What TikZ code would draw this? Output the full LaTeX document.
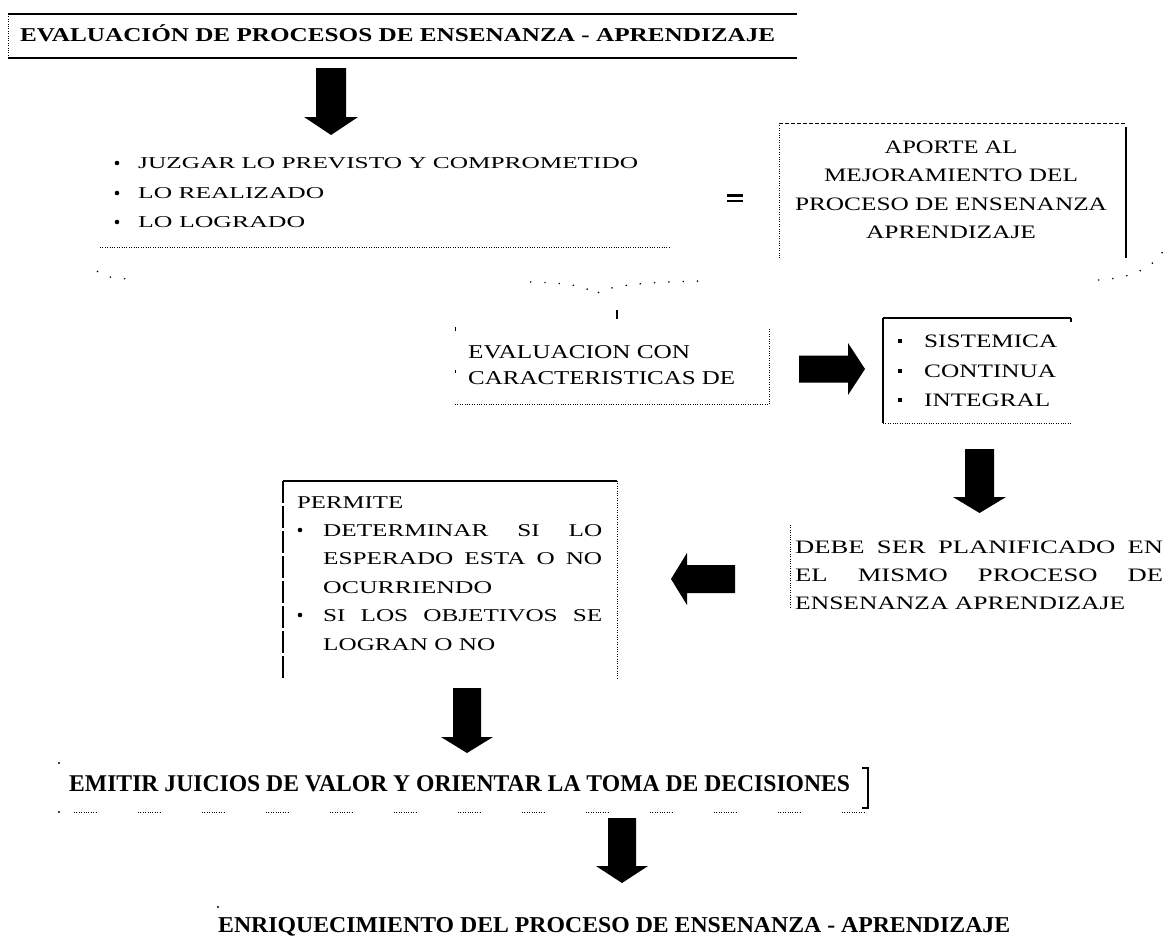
\documentclass[tikz,border=0pt]{standalone}
\usepackage{fontspec}
\setmainfont{Liberation Serif}
\usepackage{graphicx}
\newcommand\fw[2]{\resizebox{#1pt}{\height}{#2}}
\newcommand\jl[2]{\resizebox{#1pt}{\height}{\hbox to \dimexpr#1pt*10/14\relax{#2}}}
\tikzset{
  txt/.style={anchor=base west, inner sep=0pt},
  ctxt/.style={anchor=base, inner sep=0pt},
  fA/.style={font=\fontsize{16.6}{18}\selectfont},
  fB/.style={font=\fontsize{19}{20}\selectfont},
  fC/.style={font=\fontsize{19.6}{20}\selectfont},
  fD/.style={font=\fontsize{18}{20}\selectfont},
  fT/.style={font=\bfseries\fontsize{19.6}{20}\selectfont},
  fE/.style={font=\bfseries\fontsize{24}{26}\selectfont},
  fF/.style={font=\bfseries\fontsize{22.7}{24}\selectfont},
  solidb/.style={line width=1.2pt},
  heavyb/.style={line width=2pt},
  dotb/.style={line width=1pt, dash pattern=on 1pt off 1.4pt},
  dashb/.style={line width=1pt, dash pattern=on 4pt off 2pt},
  longdash/.style={line width=1.2pt, dash pattern=on 22pt off 3pt},
  sparse/.style={line width=1.3pt, dash pattern=on 1.3pt off 13pt},
  blk/.style={fill=black},
}
\begin{document}
\begin{tikzpicture}[x=1pt,y=-1pt]
\useasboundingbox[fill=white] (0,0) rectangle (1169,942);

% ---------- title box
\draw[heavyb] (8,14) -- (797,14);
\draw[heavyb] (8,58) -- (797,58);
\draw[dotb] (8,14) -- (8,58);
\node[txt,fT] (title) at (20,41.5) {\fw{755}{EVALUACIÓN DE PROCESOS DE ENSENANZA - APRENDIZAJE}};

% ---------- arrow 1
\fill[blk] (316,68) -- (346,68) -- (346,117) -- (358,117) -- (331,135) -- (304,117) -- (316,117) -- cycle;

% ---------- list
\fill (117,163) circle (2.3);
\fill (117,193) circle (2.3);
\fill (117,222) circle (2.3);
\node[txt,fA] (l1) at (138,168.5) {\fw{500}{JUZGAR LO PREVISTO Y COMPROMETIDO}};
\node[txt,fA] (l2) at (138,198.5) {\fw{186}{LO REALIZADO}};
\node[txt,fA] (l3) at (138,227.5) {\fw{167}{LO LOGRADO}};
\draw[dotb] (100,247) -- (671,247);

% ---------- equals
\fill (727,194) rectangle (743,196.6);
\fill (727,199.6) rectangle (743,202.2);

% ---------- aporte box
\draw[dashb] (779,123) -- (1126,123);
\draw[dotb] (779,123) -- (779,258);
\draw[line width=1.6pt] (1126,127) -- (1126,258);
\node[ctxt,fB] (ap1) at (951,153.3) {\fw{133}{APORTE AL}};
\node[ctxt,fB] (ap2) at (951,181.3) {\fw{254}{MEJORAMIENTO DEL}};
\node[ctxt,fB] (ap3) at (951,210.3) {\fw{312}{PROCESO DE ENSENANZA}};
\node[ctxt,fB] (ap4) at (951,238.3) {\fw{170}{APRENDIZAJE}};

% ---------- brace remnants
\draw[sparse] (97,271) .. controls (102,277) and (118,279) .. (132,279);
\draw[sparse] (530,282) .. controls (570,283) and (588,286) .. (595,295) .. controls (604,286) and (640,282) .. (705,281);
\draw[sparse] (1098,280) .. controls (1140,278) and (1160,262) .. (1167,243);
\draw[line width=1.3pt] (617,310) -- (617,319);

% ---------- middle box
\draw[line width=1pt] (455,327) -- (455,331);
\draw[line width=1pt] (455,370) -- (455,373);
\draw[dotb] (455,404) -- (769,404);
\draw[dotb] (769,329) -- (769,404);
\node[txt,fC] (m1) at (468,358.5) {\fw{222}{EVALUACION CON}};
\node[txt,fC] (m2) at (468,384.5) {\fw{267}{CARACTERISTICAS DE}};

% ---------- right arrow
\fill[blk] (799,355.5) -- (848,355.5) -- (848,343) -- (865,369) -- (848,395) -- (848,382.5) -- (799,382.5) -- cycle;

% ---------- sistemica box
\draw[heavyb] (883,318) -- (1071,318);
\draw[solidb] (1071,318) -- (1071,322);
\draw[solidb] (883,318) -- (883,423);
\draw[dotb] (883,423) -- (1071,423);
\fill (898,339) rectangle (902,343);
\fill (898,369) rectangle (902,373);
\fill (898,398) rectangle (902,402);
\node[txt,fB] (s1) at (924,347.3) {\fw{133}{SISTEMICA}};
\node[txt,fB] (s2) at (924,377.3) {\fw{132}{CONTINUA}};
\node[txt,fB] (s3) at (924,406.3) {\fw{126}{INTEGRAL}};

% ---------- arrow 2
\fill[blk] (965,449) -- (994,449) -- (994,497) -- (1006,497) -- (979.5,513) -- (953,497) -- (965,497) -- cycle;

% ---------- debe
\draw[dotb] (790,525) -- (790,607);
\node[txt,fB] (d1) at (795,553.3) {\jl{368}{DEBE\hfill SER\hfill PLANIFICADO\hfill EN}};
\node[txt,fB] (d2) at (795,581.3) {\jl{368}{EL\hfill MISMO\hfill PROCESO\hfill DE}};
\node[txt,fB] (d3) at (795,609.3) {\fw{330}{ENSENANZA APRENDIZAJE}};

% ---------- left arrow
\fill[blk] (735,565) -- (735,593) -- (687,593) -- (687,605) -- (671,579) -- (687,553) -- (687,565) -- cycle;

% ---------- permite box
\draw[solidb] (283,481) -- (617,481);
\draw[longdash] (283,481) -- (283,680);
\draw[dotb] (617,481) -- (617,680);
\node[txt,fD] (p0) at (297,508) {\fw{106}{PERMITE}};
\fill (300,530) circle (2.3);
\fill (300,615) circle (2.3);
\node[txt,fD] (p1) at (323,536) {\jl{279}{DETERMINAR\hfill SI\hfill LO}};
\node[txt,fD] (p2) at (323,564) {\jl{279}{ESPERADO\hfill ESTA\hfill O\hfill NO}};
\node[txt,fD] (p3) at (323,593) {\fw{169}{OCURRIENDO}};
\node[txt,fD] (p4) at (323,621) {\jl{279}{SI\hfill LOS\hfill OBJETIVOS\hfill SE}};
\node[txt,fD] (p5) at (323,650) {\fw{172}{LOGRAN O NO}};

% ---------- arrow 3
\fill[blk] (453,688) -- (481,688) -- (481,737) -- (493,737) -- (467,753) -- (441,737) -- (453,737) -- cycle;

% ---------- emitir
\fill (59,763) circle (1.2);
\node[txt,fE] (e1) at (69,791) {\fw{781}{EMITIR JUICIOS DE VALOR Y ORIENTAR LA TOMA DE DECISIONES}};
\fill (59,812) circle (1.2);
\foreach \xx in {74,138,202,266,330,394,458,522,586,650,714,778,842}
  \draw[dotb] (\xx,812) -- ++(24,0);
\draw[solidb] (862,768) -- (868,768) -- (868,808) -- (862,808);

% ---------- arrow 4
\fill[blk] (608,818) -- (636,818) -- (636,866) -- (648,866) -- (622,883) -- (596,866) -- (608,866) -- cycle;

% ---------- enriquecimiento
\fill (218,907) circle (1.2);
\node[txt,fF] (f1) at (218,932.5) {\fw{792}{ENRIQUECIMIENTO DEL PROCESO DE ENSENANZA - APRENDIZAJE}};
\end{tikzpicture}
\end{document}
